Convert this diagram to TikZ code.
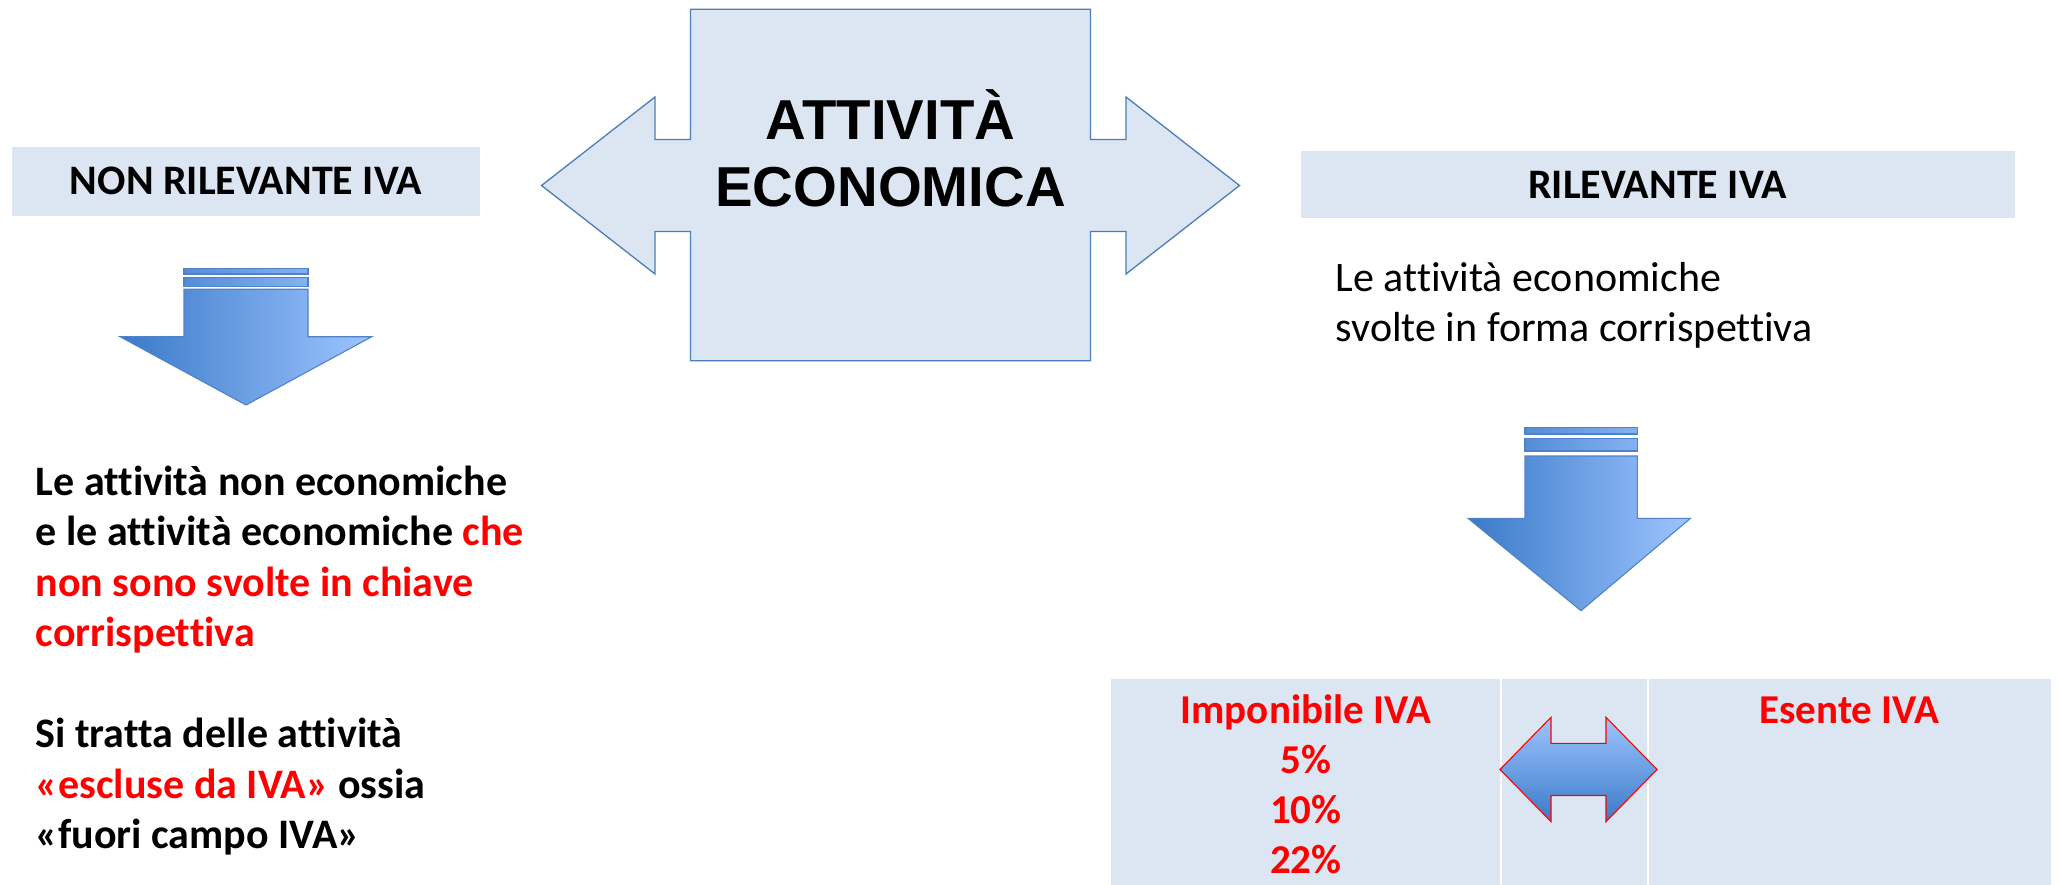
\documentclass[tikz,border=0pt]{standalone}
\usepackage{fontspec}
\setmainfont{Carlito}[Ligatures={TeX,NoCommon}]
\newfontfamily\arialf{Liberation Sans}
\definecolor{paleblue}{RGB}{220,230,242}
\definecolor{edgeblue}{RGB}{74,126,187}
\definecolor{adark}{RGB}{58,122,200}
\definecolor{alight}{RGB}{158,196,255}
\definecolor{aedge}{RGB}{80,130,200}
\definecolor{ivared}{RGB}{255,0,0}
\tikzset{
  crossshape/.style={fill=paleblue, draw=edgeblue, line width=1.3pt, line join=miter},
  downarrow/.style={left color=adark, right color=alight, draw=aedge, line width=1.1pt},
  stripe/.style={left color=adark!74!alight, right color=adark!25!alight, draw=aedge, line width=1.1pt},
  smallarrow/.style={top color=alight, bottom color=adark, draw=ivared, line width=1.1pt},
  hdr/.style={fill=paleblue, inner sep=0pt, font=\bfseries\fontsize{42}{50}\selectfont},
  bigtext/.style={anchor=base, inner sep=0pt, font=\arialf\bfseries\fontsize{56.3}{67}\selectfont},
  bodytext/.style={inner sep=0pt},
  cell/.style={fill=paleblue}
}
\begin{document}
\begin{tikzpicture}[x=1pt,y=-1pt]
\useasboundingbox (0,0) rectangle (2058,885);
\fill[white] (0,0) rectangle (2058,885);

% central double arrow
\draw[crossshape] (690.5,9.3) -- (1090.5,9.3) -- (1090.5,139.5) -- (1126,139.5) -- (1126,97) -- (1239.5,185.5) -- (1126,274) -- (1126,231.5) -- (1090.5,231.5) -- (1090.5,360.7) -- (690.5,360.7) -- (690.5,231.5) -- (655,231.5) -- (655,274) -- (541.5,185.5) -- (655,97) -- (655,139.5) -- (690.5,139.5) -- cycle;
\node[bigtext] (att) at (890.5,139.5) {ATTIVITÀ};
\node[bigtext] (eco) at (890.5,206.5) {ECONOMICA};

% headers
\node[hdr, minimum width=468pt, minimum height=69.3pt] (nonril) at (246,181.35) {NON RILEVANTE IVA};
\node[hdr, minimum width=714pt, minimum height=67.3pt] (ril) at (1657.6,184.65) {RILEVANTE IVA};

% left down arrow
\draw[stripe] (184,268.3) rectangle (308,274);
\draw[stripe] (184,277.7) rectangle (308,286.7);
\draw[downarrow] (184,289.3) -- (308,289.3) -- (308,336.7) -- (371.7,336.7) -- (246,405) -- (120,336.7) -- (184,336.7) -- cycle;

% right down arrow
\draw[stripe] (1525,427.3) rectangle (1637.3,434);
\draw[stripe] (1525,438.7) rectangle (1637.3,451);
\draw[downarrow] (1525,456) -- (1637.3,456) -- (1637.3,518.3) -- (1690.5,518.3) -- (1581,610.7) -- (1468,518.3) -- (1525,518.3) -- cycle;

% right text
\node[bodytext, anchor=base west, font=\fontsize{42}{50}\selectfont] (rtext) at (1335.6,291)
  {\begin{tabular}[t]{@{}l@{}}Le attività economiche\\svolte in forma corrispettiva\end{tabular}};

% left text
\node[bodytext, anchor=base west, font=\bfseries\fontsize{42}{50.5}\selectfont] (ltext) at (35.5,495)
  {\begin{tabular}[t]{@{}l@{}}Le attività non economiche\\
  e le attività economiche \textcolor{ivared}{che}\\
  \textcolor{ivared}{non sono svolte in chiave}\\
  \textcolor{ivared}{corrispettiva}\\
  \\
  Si tratta delle attività\\
  \textcolor{ivared}{«escluse da IVA»} ossia\\
  «fuori campo IVA»\end{tabular}};

% table
\fill[cell] (1111,679) rectangle (1499.7,885);
\fill[cell] (1501.7,679) rectangle (1647,885);
\fill[cell] (1649,679) rectangle (2050.5,885);
\node[bodytext, anchor=base, font=\bfseries\fontsize{41}{50}\selectfont, text=ivared] (impon) at (1305.8,723)
  {\begin{tabular}[t]{@{}c@{}}Imponibile IVA\\5\%\\10\%\\22\%\end{tabular}};
\node[bodytext, anchor=base, font=\bfseries\fontsize{41}{50}\selectfont, text=ivared] (esente) at (1849.5,723) {Esente IVA};

% small double arrow
\draw[smallarrow] (1500,769.5) -- (1551,717.3) -- (1551,743.3) -- (1606,743.3) -- (1606,717.3) -- (1657,769.5) -- (1606,821.7) -- (1606,795.5) -- (1551,795.5) -- (1551,821.7) -- cycle;
\end{tikzpicture}
\end{document}
